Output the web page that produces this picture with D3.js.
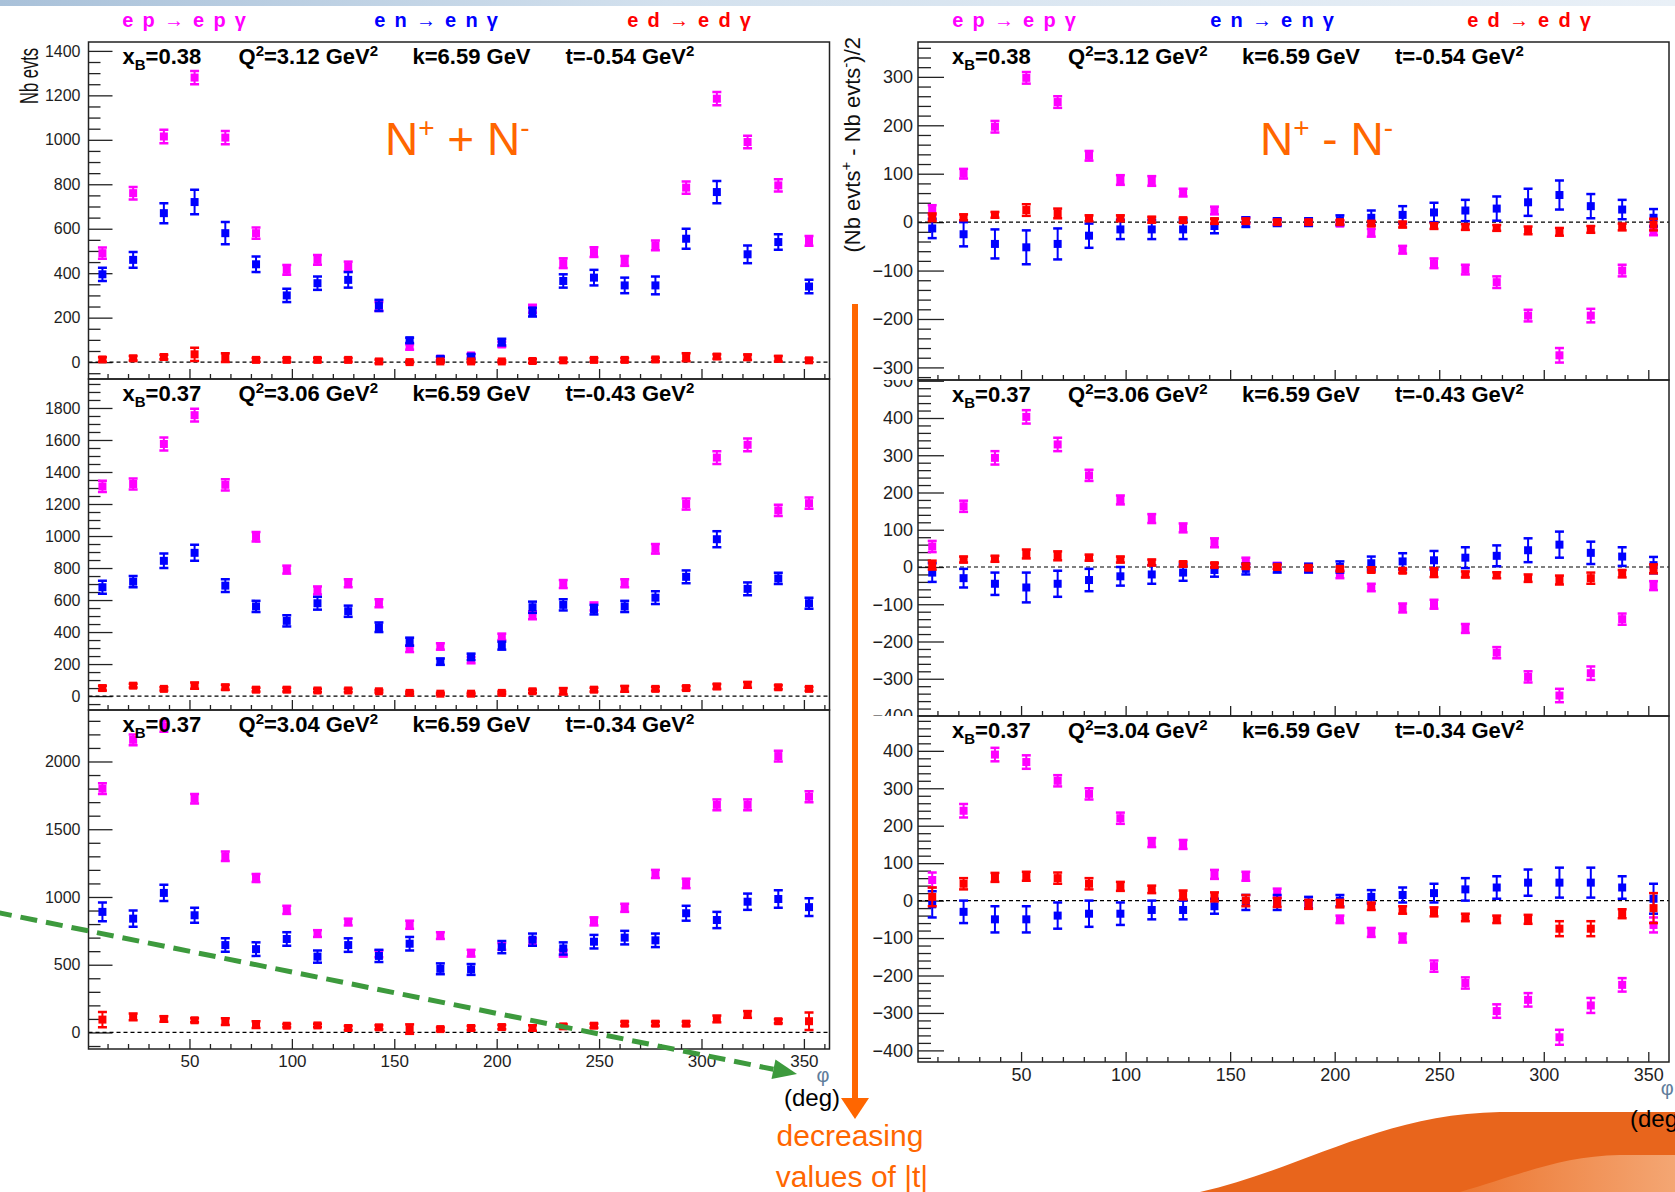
<!DOCTYPE html>
<html>
<head>
<meta charset="utf-8">
<script src="https://cdn.jsdelivr.net/npm/d3@7"></script>
<style>
  html, body { margin: 0; padding: 0; background: #fff; overflow: hidden; }
  svg { display: block; font-family: "Liberation Sans", Arial, Helvetica, sans-serif; }
</style>
</head>
<body>
<svg id="chart" width="1675" height="1192"></svg>
<script>
// ---------------- data ----------------
// phi bin centres (deg)
const phi = [7.5, 22.5, 37.5, 52.5, 67.5, 82.5, 97.5, 112.5, 127.5, 142.5, 157.5, 172.5,
             187.5, 202.5, 217.5, 232.5, 247.5, 262.5, 277.5, 292.5, 307.5, 322.5, 337.5, 352.5];

// kinematic bins, from largest to smallest |t|
const xB    = ["0.38", "0.37", "0.37"];
const Q2    = ["3.12", "3.06", "3.04"];
const kBeam = ["6.59", "6.59", "6.59"];
const tVal  = ["-0.54", "-0.43", "-0.34"];

const reactions = ["e p \u2192 e p \u03b3", "e n \u2192 e n \u03b3", "e d \u2192 e d \u03b3"];
const reactionColors = ["#ff00ff", "#0000ff", "#ff0000"];

// ---- N+ + N- (event counts), t = -0.54
const sumEp054    = [490, 760, 1015, 1280, 1010, 580, 415, 460, 430, 250, 68, 15, 30, 80, 240, 445, 495, 455, 525, 785, 1185, 990, 795, 545];
const sumEpErr054 = [25, 28, 30, 30, 30, 25, 22, 22, 22, 20, 12, 8, 8, 12, 18, 22, 22, 22, 22, 28, 30, 28, 28, 22];
const sumEn054    = [395, 460, 670, 720, 580, 440, 300, 355, 370, 255, 98, 15, 25, 90, 225, 365, 380, 345, 345, 555, 765, 485, 540, 340];
const sumEnErr054 = [30, 35, 45, 55, 50, 35, 30, 30, 35, 25, 12, 10, 10, 15, 20, 30, 35, 35, 40, 45, 50, 40, 35, 30];
const sumEd054    = [12, 17, 23, 35, 20, 10, 10, 10, 10, 3, 0, 3, 3, 3, 5, 8, 10, 10, 12, 22, 25, 22, 15, 8];
const sumEdErr054 = [10, 10, 10, 30, 20, 8, 8, 8, 8, 8, 5, 5, 5, 5, 8, 8, 8, 8, 8, 18, 10, 12, 12, 8];

// ---- N+ + N-, t = -0.43
const sumEp043    = [1310, 1325, 1575, 1755, 1320, 995, 790, 660, 705, 580, 295, 310, 225, 370, 505, 700, 560, 705, 920, 1200, 1490, 1570, 1160, 1205];
const sumEpErr043 = [35, 35, 40, 40, 35, 30, 25, 25, 25, 25, 20, 20, 20, 20, 25, 25, 25, 25, 30, 35, 40, 40, 35, 35];
const sumEn043    = [680, 715, 845, 895, 690, 560, 470, 580, 530, 430, 340, 215, 245, 315, 555, 570, 540, 560, 615, 745, 980, 670, 735, 580];
const sumEnErr043 = [40, 35, 45, 50, 40, 35, 35, 40, 35, 30, 25, 20, 20, 25, 35, 35, 30, 35, 40, 40, 50, 40, 35, 35];
const sumEd043    = [50, 65, 45, 65, 55, 40, 40, 35, 35, 30, 20, 15, 15, 20, 30, 30, 40, 45, 45, 50, 60, 70, 55, 45];
const sumEdErr043 = [15, 12, 10, 20, 15, 12, 12, 10, 10, 8, 8, 6, 6, 8, 10, 20, 12, 18, 12, 12, 15, 18, 12, 12];

// ---- N+ + N-, t = -0.34
const sumEp034    = [1800, 2160, 2260, 1725, 1300, 1140, 905, 730, 815, 580, 795, 715, 585, 635, 670, 585, 820, 920, 1170, 1100, 1680, 1680, 2040, 1740];
const sumEpErr034 = [40, 40, 40, 35, 35, 30, 30, 25, 25, 25, 30, 25, 25, 25, 25, 25, 30, 30, 30, 35, 40, 40, 40, 40];
const sumEn034    = [890, 840, 1030, 865, 645, 615, 690, 560, 645, 565, 655, 470, 465, 630, 685, 620, 670, 700, 680, 880, 830, 965, 985, 925];
const sumEnErr034 = [70, 60, 60, 55, 50, 50, 50, 45, 50, 45, 50, 40, 40, 45, 45, 45, 50, 50, 50, 55, 60, 60, 65, 65];
const sumEd034    = [95, 115, 100, 90, 80, 58, 50, 52, 33, 38, 25, 25, 33, 40, 33, 45, 50, 65, 65, 65, 100, 133, 83, 83];
const sumEdErr034 = [56, 25, 20, 15, 25, 25, 12, 12, 15, 15, 35, 12, 15, 15, 20, 15, 15, 15, 15, 15, 25, 25, 15, 65];

// ---- (N+ - N-)/2, t = -0.54
const difEp054    = [25, 100, 197, 298, 248, 137, 87, 85, 61, 24, 4, 0, 0, -3, -22, -57, -85, -98, -124, -193, -275, -193, -100, -17];
const difEpErr054 = [10, 10, 12, 12, 12, 10, 10, 10, 8, 8, 6, 5, 5, 5, 8, 8, 10, 10, 12, 12, 15, 14, 12, 10];
const difEn054    = [-13, -25, -45, -52, -45, -28, -15, -15, -15, -8, 0, 0, 0, 4, 9, 15, 20, 24, 28, 41, 56, 33, 26, 9];
const difEnErr054 = [20, 25, 30, 35, 32, 25, 20, 20, 20, 15, 10, 8, 8, 10, 15, 18, 20, 22, 25, 28, 30, 25, 20, 18];
const difEd054    = [10, 10, 15, 25, 18, 8, 8, 5, 4, 2, 2, 0, 0, 0, -3, -5, -8, -10, -12, -17, -20, -15, -10, -5];
const difEdErr054 = [8, 6, 6, 12, 10, 6, 6, 6, 5, 5, 5, 4, 4, 4, 5, 6, 6, 6, 6, 8, 8, 7, 7, 12];

// ---- (N+ - N-)/2, t = -0.43
const difEp043    = [55, 163, 293, 403, 329, 246, 180, 130, 105, 65, 15, 3, -5, -20, -55, -110, -100, -165, -230, -295, -345, -285, -140, -50];
const difEpErr043 = [15, 15, 18, 18, 18, 15, 12, 12, 12, 12, 10, 8, 8, 10, 10, 12, 12, 12, 15, 15, 18, 18, 15, 12];
const difEn043    = [-15, -30, -45, -55, -45, -35, -25, -20, -15, -8, -5, -3, -3, 0, 10, 15, 18, 25, 30, 45, 60, 38, 28, 5];
const difEnErr043 = [25, 25, 30, 40, 35, 30, 25, 25, 22, 18, 15, 12, 12, 15, 18, 22, 25, 28, 28, 32, 35, 30, 25, 22];
const difEd043    = [5, 20, 22, 35, 30, 25, 20, 12, 8, 5, 2, 0, -2, -5, -8, -10, -15, -20, -22, -30, -35, -30, -18, -5];
const difEdErr043 = [12, 8, 8, 12, 12, 8, 8, 8, 6, 6, 6, 5, 5, 5, 6, 6, 12, 8, 8, 10, 12, 15, 10, 12];

// ---- (N+ - N-)/2, t = -0.34
const difEp034    = [55, 240, 390, 370, 320, 285, 220, 155, 150, 70, 65, 20, -10, -50, -85, -100, -175, -220, -295, -265, -365, -280, -225, -65];
const difEpErr034 = [20, 18, 18, 18, 15, 15, 15, 12, 12, 12, 12, 12, 10, 10, 12, 12, 15, 15, 18, 18, 20, 20, 18, 20];
const difEn034    = [-10, -30, -50, -50, -40, -35, -35, -25, -25, -15, -5, -5, -5, 0, 10, 15, 20, 30, 35, 48, 48, 48, 35, 5];
const difEnErr034 = [35, 30, 35, 35, 35, 35, 30, 25, 25, 20, 20, 20, 15, 15, 18, 20, 25, 30, 30, 35, 40, 40, 30, 40];
const difEd034    = [10, 45, 62, 65, 60, 45, 38, 30, 15, 10, 0, -5, -10, -8, -15, -25, -30, -45, -50, -50, -75, -75, -35, -20];
const difEdErr034 = [25, 15, 12, 12, 15, 15, 12, 10, 12, 12, 15, 12, 12, 10, 10, 10, 12, 10, 10, 12, 20, 20, 12, 40];

// ---------------- layout ----------------
const W = 1675, H = 1192;
const ORANGE = "#ff6600";

const columns = [
  {
    x0: 88.5, x1: 829.5, xDomain: [0.7, 362.5], clipX: [0, 846],
    yFont: 16, xFont: 17, yPad: 8, yTick: 24,
    headerX: [185, 437, 690],
    panels: [
      { top: 42,  bottom: 379,  domain: [-76, 1440],  major: 200, minor: 50,
        series: [[sumEp054, sumEpErr054], [sumEn054, sumEnErr054], [sumEd054, sumEdErr054]] },
      { top: 379, bottom: 710,  domain: [-87, 1981],  major: 200, minor: 50,
        series: [[sumEp043, sumEpErr043], [sumEn043, sumEnErr043], [sumEd043, sumEdErr043]] },
      { top: 710, bottom: 1049, domain: [-122, 2380], major: 500, minor: 100,
        series: [[sumEp034, sumEpErr034], [sumEn034, sumEnErr034], [sumEd034, sumEdErr034]] }
    ]
  },
  {
    x0: 918, x1: 1669, xDomain: [0.7, 359.9], clipX: [846, W],
    yFont: 18, xFont: 18, yPad: 5, yTick: 26,
    headerX: [1015, 1273, 1530],
    panels: [
      { top: 42,  bottom: 380,  domain: [-326, 372], major: 100, minor: 20,
        series: [[difEp054, difEpErr054], [difEn054, difEnErr054], [difEd054, difEdErr054]] },
      { top: 380, bottom: 716,  domain: [-400, 502], major: 100, minor: 20,
        series: [[difEp043, difEpErr043], [difEn043, difEnErr043], [difEd043, difEdErr043]] },
      { top: 716, bottom: 1062, domain: [-431, 493], major: 100, minor: 20,
        series: [[difEp034, difEpErr034], [difEn034, difEnErr034], [difEd034, difEdErr034]] }
    ]
  }
];

const svg = d3.select("#chart");
const defs = svg.append("defs");

// ---------------- slide decoration ----------------
const topGrad = defs.append("linearGradient").attr("id", "topStrip");
topGrad.append("stop").attr("offset", "0%").attr("stop-color", "#a9c1d9");
topGrad.append("stop").attr("offset", "40%").attr("stop-color", "#d3e1ee");
topGrad.append("stop").attr("offset", "100%").attr("stop-color", "#e9f0f7");
svg.append("rect").attr("x", 0).attr("y", 0).attr("width", W).attr("height", 6)
  .attr("fill", "url(#topStrip)");

const waveGrad = defs.append("linearGradient").attr("id", "waveInner");
waveGrad.append("stop").attr("offset", "0%").attr("stop-color", "#ec7630");
waveGrad.append("stop").attr("offset", "100%").attr("stop-color", "#f4a673");
svg.append("path")
  .attr("d", "M1200,1192 C1300,1170 1380,1114 1500,1112 L1675,1112 L1675,1192 Z")
  .attr("fill", "#e8651c");
svg.append("path")
  .attr("d", "M1460,1192 C1520,1175 1560,1156 1620,1155 L1675,1155 L1675,1192 Z")
  .attr("fill", "url(#waveInner)");

// ---------------- panels ----------------
const kinOffsets = [34, 150, 324, 477];

function range(lo, hi, step) {
  const out = [];
  for (let v = Math.ceil(lo / step) * step; v <= hi + 1e-9; v += step) out.push(Math.round(v * 1000) / 1000);
  return out;
}

columns.forEach((col, ci) => {
  const x = d3.scaleLinear().domain(col.xDomain).range([col.x0, col.x1]);

  // reaction legend above the column
  reactions.forEach((r, ri) => {
    svg.append("text")
      .attr("x", col.headerX[ri]).attr("y", 27)
      .attr("text-anchor", "middle")
      .attr("font-size", 20).attr("font-weight", "bold")
      .attr("letter-spacing", 1.8)
      .attr("fill", reactionColors[ri])
      .text(r);
  });

  col.panels.forEach((p, pi) => {
    const isBottom = pi === col.panels.length - 1;
    const y = d3.scaleLinear().domain(p.domain).range([p.bottom, p.top]);
    const g = svg.append("g");

    // clip regions: the frame for markers, the pad band for axis labels
    const frameId = `frame-${ci}-${pi}`;
    defs.append("clipPath").attr("id", frameId).append("rect")
      .attr("x", col.x0).attr("y", p.top)
      .attr("width", col.x1 - col.x0).attr("height", p.bottom - p.top);
    const padId = `pad-${ci}-${pi}`;
    const padTop = pi === 0 ? 0 : p.top;
    const padBottom = isBottom ? H : p.bottom;
    defs.append("clipPath").attr("id", padId).append("rect")
      .attr("x", col.clipX[0]).attr("y", padTop)
      .attr("width", col.clipX[1] - col.clipX[0]).attr("height", padBottom - padTop);

    const axes = g.append("g").attr("clip-path", `url(#${padId})`);

    // y axis: major ticks with labels, minor ticks, all pointing inward
    const yMajor = range(p.domain[0], p.domain[1], p.major);
    const yMinor = range(p.domain[0], p.domain[1], p.minor).filter(v => yMajor.indexOf(v) < 0);
    const yAx = axes.append("g").attr("transform", `translate(${col.x0},0)`)
      .call(d3.axisLeft(y).tickValues(yMajor).tickSize(-col.yTick).tickPadding(col.yPad)
        .tickFormat(d3.format("d")));
    const yAxMinor = axes.append("g").attr("transform", `translate(${col.x0},0)`)
      .call(d3.axisLeft(y).tickValues(yMinor).tickSize(-col.yTick / 2).tickFormat(""));

    // x axis
    const xMajor = range(col.xDomain[0], col.xDomain[1], 50);
    const xMinor = range(col.xDomain[0], col.xDomain[1], 10).filter(v => xMajor.indexOf(v) < 0);
    const xAx = axes.append("g").attr("transform", `translate(0,${p.bottom})`)
      .call(d3.axisBottom(x).tickValues(xMajor).tickSize(-10).tickPadding(6)
        .tickFormat(isBottom ? d3.format("d") : ""));
    const xAxMinor = axes.append("g").attr("transform", `translate(0,${p.bottom})`)
      .call(d3.axisBottom(x).tickValues(xMinor).tickSize(-5).tickFormat(""));

    [yAx, yAxMinor, xAx, xAxMinor].forEach(a => {
      a.select(".domain").remove();
      a.selectAll(".tick line").attr("stroke", "#222").attr("stroke-width", 1.3);
      a.selectAll("text").attr("fill", "#1e1e1e").attr("font-family", '"Liberation Sans", Arial, sans-serif');
    });
    yAx.selectAll("text").attr("font-size", col.yFont);
    xAx.selectAll("text").attr("font-size", col.xFont);

    // zero reference line
    g.append("line")
      .attr("x1", col.x0).attr("x2", col.x1)
      .attr("y1", y(0)).attr("y2", y(0))
      .attr("stroke", "#000").attr("stroke-width", 1.2)
      .attr("stroke-dasharray", "4,3");

    // markers with error bars
    const marks = g.append("g").attr("clip-path", `url(#${frameId})`);
    p.series.forEach(([vals, errs], si) => {
      const rows = phi.map((f, i) => ({ f, v: vals[i], e: errs[i] }));
      const sg = marks.append("g").attr("stroke", reactionColors[si]).attr("fill", reactionColors[si]);
      sg.selectAll("line.bar").data(rows).join("line").attr("class", "bar")
        .attr("x1", d => x(d.f)).attr("x2", d => x(d.f))
        .attr("y1", d => y(d.v - d.e)).attr("y2", d => y(d.v + d.e))
        .attr("stroke-width", 2);
      sg.selectAll("line.capLo").data(rows).join("line").attr("class", "capLo")
        .attr("x1", d => x(d.f) - 4.5).attr("x2", d => x(d.f) + 4.5)
        .attr("y1", d => y(d.v - d.e)).attr("y2", d => y(d.v - d.e))
        .attr("stroke-width", 2.5);
      sg.selectAll("line.capHi").data(rows).join("line").attr("class", "capHi")
        .attr("x1", d => x(d.f) - 4.5).attr("x2", d => x(d.f) + 4.5)
        .attr("y1", d => y(d.v + d.e)).attr("y2", d => y(d.v + d.e))
        .attr("stroke-width", 2.5);
      sg.selectAll("rect").data(rows).join("rect")
        .attr("x", d => x(d.f) - 4).attr("y", d => y(d.v) - 4)
        .attr("width", 8).attr("height", 8)
        .attr("stroke", "none");
    });

    // frame
    g.append("rect")
      .attr("x", col.x0).attr("y", p.top)
      .attr("width", col.x1 - col.x0).attr("height", p.bottom - p.top)
      .attr("fill", "none").attr("stroke", "#222").attr("stroke-width", 1.5);

    // kinematics of the bin
    const base = p.top + 22;
    const kin = g.append("g").attr("font-size", 22).attr("font-weight", "bold").attr("fill", "#000");
    const t1 = kin.append("text").attr("x", col.x0 + kinOffsets[0]).attr("y", base);
    t1.append("tspan").text("x");
    t1.append("tspan").attr("font-size", 15).attr("dy", 6).text("B");
    t1.append("tspan").attr("dy", -6).text("=" + xB[pi]);
    const t2 = kin.append("text").attr("x", col.x0 + kinOffsets[1]).attr("y", base);
    t2.append("tspan").text("Q");
    t2.append("tspan").attr("font-size", 15).attr("dy", -8).text("2");
    t2.append("tspan").attr("dy", 8).text("=" + Q2[pi] + " GeV");
    t2.append("tspan").attr("font-size", 15).attr("dy", -8).text("2");
    kin.append("text").attr("x", col.x0 + kinOffsets[2]).attr("y", base)
      .text("k=" + kBeam[pi] + " GeV");
    const t4 = kin.append("text").attr("x", col.x0 + kinOffsets[3]).attr("y", base);
    t4.append("tspan").text("t=" + tVal[pi] + " GeV");
    t4.append("tspan").attr("font-size", 15).attr("dy", -8).text("2");

    // x-axis title on the bottom pad
    if (isBottom) {
      svg.append("text")
        .attr("x", x(350) + 19).attr("y", p.bottom + 33)
        .attr("text-anchor", "middle").attr("font-size", 20).attr("fill", "#5f7d9b")
        .text("\u03c6");
    }
  });
});

// y-axis titles
svg.append("text")
  .attr("transform", "translate(37.5,48) rotate(-90) scale(0.66,1)")
  .attr("text-anchor", "end").attr("font-size", 25).attr("fill", "#111")
  .text("Nb evts");

const rt = svg.append("text")
  .attr("transform", "translate(860,37) rotate(-90)")
  .attr("text-anchor", "end").attr("font-size", 22).attr("fill", "#111");
rt.append("tspan").text("(Nb evts");
rt.append("tspan").attr("font-size", 15).attr("dy", -9).text("+");
rt.append("tspan").attr("dy", 9).text(" - Nb evts");
rt.append("tspan").attr("font-size", 15).attr("dy", -9).text("-");
rt.append("tspan").attr("dy", 9).text(")/2");

// unit labels under the phi axes
svg.append("text").attr("x", 812).attr("y", 1106).attr("text-anchor", "middle")
  .attr("font-size", 24).attr("fill", "#000").text("(deg)");
svg.append("text").attr("x", 1630).attr("y", 1127)
  .attr("font-size", 24).attr("fill", "#000").text("(deg)");

// combination labels
function comboLabel(xPos, op) {
  const t = svg.append("text").attr("x", xPos).attr("y", 155)
    .attr("font-size", 46).attr("fill", ORANGE);
  t.append("tspan").text("N");
  t.append("tspan").attr("font-size", 28).attr("dy", -18).text("+");
  t.append("tspan").attr("dy", 18).text(" " + op + " N");
  t.append("tspan").attr("font-size", 28).attr("dy", -18).text("-");
}
comboLabel(385, "+");
comboLabel(1260, "-");

// |t| ordering arrow
svg.append("rect").attr("x", 852).attr("y", 304).attr("width", 6).attr("height", 798).attr("fill", ORANGE);
svg.append("path").attr("d", "M841,1098 L869,1098 L855,1119 Z").attr("fill", ORANGE);
svg.append("text").attr("x", 850).attr("y", 1146).attr("text-anchor", "middle")
  .attr("font-size", 30).attr("fill", ORANGE).text("decreasing");
svg.append("text").attr("x", 852).attr("y", 1187).attr("text-anchor", "middle")
  .attr("font-size", 30).attr("fill", ORANGE).text("values of |t|");

// dashed trend arrow across the bottom-left pad
const gA = [-5, 912], gTip = [797, 1074];
const dx = gTip[0] - gA[0], dy = gTip[1] - gA[1], len = Math.hypot(dx, dy);
const ux = dx / len, uy = dy / len, headL = 24, headW = 10;
const bx = gTip[0] - headL * ux, by = gTip[1] - headL * uy;
svg.append("line")
  .attr("x1", gA[0]).attr("y1", gA[1]).attr("x2", bx).attr("y2", by)
  .attr("stroke", "#3d9a3d").attr("stroke-width", 5).attr("stroke-dasharray", "17,9");
svg.append("path")
  .attr("d", `M${gTip[0]},${gTip[1]} L${bx - headW * uy},${by + headW * ux} L${bx + headW * uy},${by - headW * ux} Z`)
  .attr("fill", "#3d9a3d");
</script>
</body>
</html>
